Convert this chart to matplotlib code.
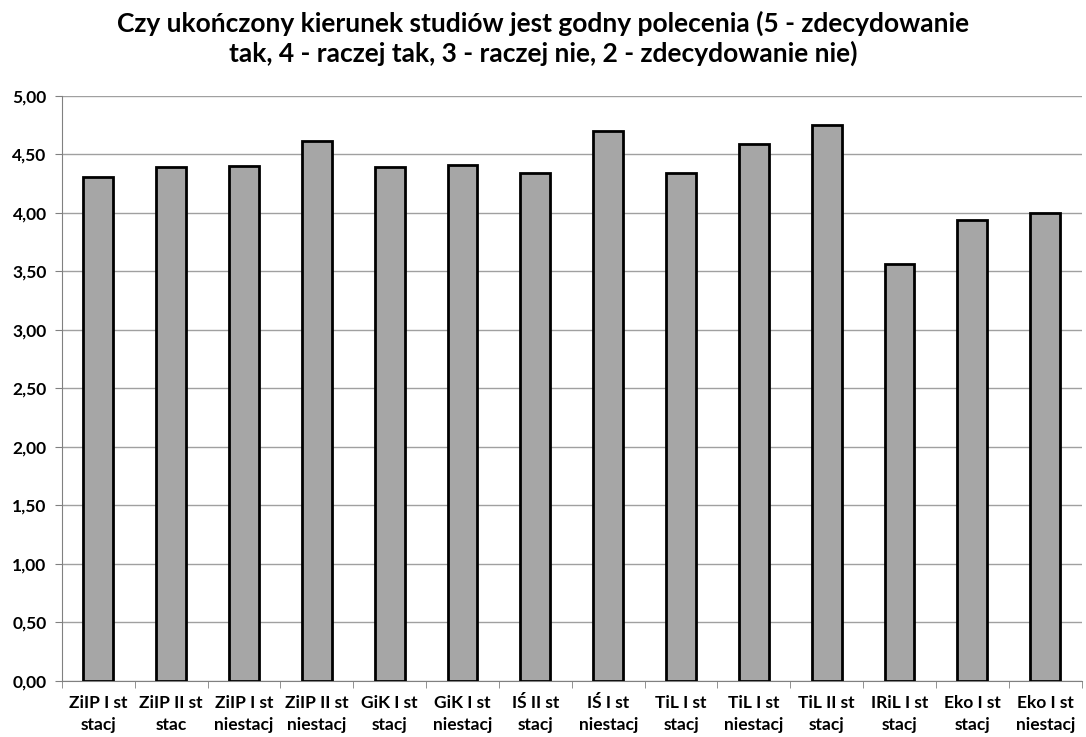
import matplotlib
matplotlib.use("Agg")
import matplotlib.pyplot as plt
import numpy as np
from matplotlib.ticker import FixedLocator, FuncFormatter

categories = ["ZiIP I st\nstacj", "ZiIP II st\nstac", "ZiIP I st\nniestacj", "ZiIP II st\nniestacj",
              "GiK I st\nstacj", "GiK I st\nniestacj", "IŚ II st\nstacj", "IŚ I st\nniestacj",
              "TiL I st\nstacj", "TiL I st\nniestacj", "TiL II st\nstacj", "IRiL I st\nstacj",
              "Eko I st\nstacj", "Eko I st\nniestacj"]
values = [4.31, 4.39, 4.40, 4.61, 4.39, 4.41, 4.34, 4.70, 4.34, 4.59, 4.75, 3.56, 3.94, 4.00]
yticks = [0, 0.5, 1.0, 1.5, 2.0, 2.5, 3.0, 3.5, 4.0, 4.5, 5.0]
title = "Czy ukończony kierunek studiów jest godny polecenia (5 - zdecydowanie\ntak, 4 - raczej tak, 3 - raczej nie, 2 - zdecydowanie nie)"

plt.rcParams['font.family'] = ['Lato', 'DejaVu Sans']

fig = plt.figure(figsize=(10.86, 7.37), dpi=100)
ax = fig.add_axes([0.057, 0.076, 0.939, 0.794])

x = np.arange(len(categories))
ax.bar(x, values, width=0.41, color="#a6a6a6", edgecolor="black", linewidth=2, zorder=3)

ax.set_ylim(0, 5)
ax.set_xlim(-0.5, len(categories) - 0.5)
ax.yaxis.set_major_locator(FixedLocator(yticks))
ax.yaxis.set_major_formatter(FuncFormatter(lambda v, p: f"{v:.2f}".replace(".", ",")))
ax.grid(axis="y", color="#a0a0a0", linewidth=1, zorder=0)

ax.set_xticks(x)
ax.set_xticklabels(categories, fontsize=12.5, fontweight="bold", linespacing=1.45)
ax.set_xticks(np.arange(len(categories) + 1) - 0.5, minor=True)
ax.tick_params(axis="x", which="major", length=0, pad=10)
ax.tick_params(axis="x", which="minor", length=5, color="#808080")
ax.tick_params(axis="y", length=5, color="#808080", labelsize=12.5, pad=6)
for lab in ax.get_yticklabels():
    lab.set_fontweight("bold")

for s in ["top", "right"]:
    ax.spines[s].set_visible(False)
for s in ["left", "bottom"]:
    ax.spines[s].set_color("#808080")

fig.text(0.5, 0.985, title, ha="center", va="top", fontsize=19, fontweight="bold", linespacing=1.2)

fig.savefig("out.png", dpi=100, facecolor="white")
